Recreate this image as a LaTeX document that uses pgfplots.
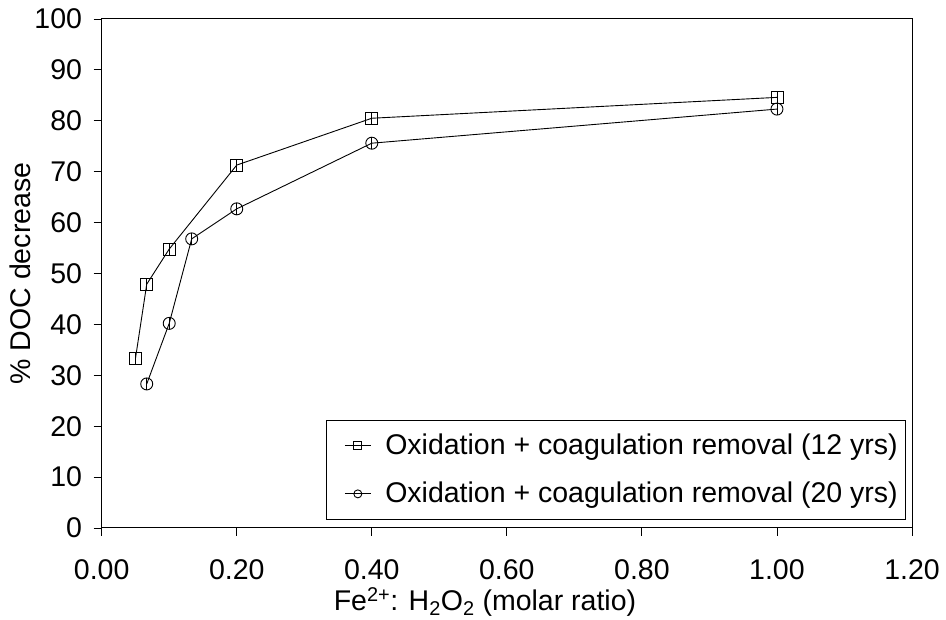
\documentclass[border=0pt]{standalone}
\usepackage{fontspec}
\setmainfont{Liberation Sans}
\usepackage{pgfplots}
\pgfplotsset{compat=1.18}

\begin{document}
\fontsize{28.5pt}{32pt}\selectfont
\begin{tikzpicture}
\path[use as bounding box] (-101.7pt,-92pt) rectangle (844.3pt,528pt);
\begin{axis}[
  at={(0pt,0pt)}, anchor=south west,
  scale only axis,
  width=810.3pt, height=509pt,
  xmin=0, xmax=1.2, ymin=0, ymax=100,
  xtick={0,0.2,...,1.2},
  ytick={0,10,...,100},
  xtick pos=left, ytick pos=left,
  tick align=outside,
  major tick length=8pt,
  axis line style={line width=1pt},
  every tick/.style={black, line width=0.9pt},
  xticklabel style={yshift=-14pt, /pgf/number format/.cd, fixed, fixed zerofill, precision=2, assume math mode=true},
  yticklabel style={xshift=-2pt, /pgf/number format/assume math mode=true},
  tick label style={font=\fontsize{28.5pt}{32pt}\selectfont},
  xlabel={Fe\textsuperscript{2+}: H\textsubscript{2}O\textsubscript{2} (molar ratio)},
  ylabel={\% DOC decrease},
  label style={font=\fontsize{28.5pt}{32pt}\selectfont},
  xlabel style={at={(axis description cs:0.473,-0.145)}, anchor=center},
  ylabel style={at={(axis description cs:-0.1,0.5)}, anchor=center},
  legend style={
    at={(rel axis cs:0.2768,0.212)}, anchor=north west,
    font=\fontsize{28.5pt}{32pt}\selectfont,
    draw=black, line width=0.8pt,
    inner xsep=6pt, inner ysep=11pt,
    row sep=19pt,
    legend cell align=left,
  },
  legend image code/.code={
    \path (-12pt,0pt) (38pt,0pt);
    \draw[mark repeat=2, mark phase=2, mark size=4pt]
      plot coordinates {(0pt,0pt) (13pt,0pt) (26pt,0pt)};
  },
]
% 12-year leachate
\addplot[black, line width=0.9pt, mark=square, mark size=6pt,
  mark options={solid, fill=none, line width=0.9pt},
  error bars/.cd, y dir=both, y explicit, error mark=none,
  error bar style={black, line width=0.9pt}]
  coordinates {
    (0.05,33.3) +- (0,1.2)
    (0.0667,47.9) +- (0,1.2)
    (0.1,54.8) +- (0,1.2)
    (0.2,71.3) +- (0,1.2)
    (0.4,80.5) +- (0,1.2)
    (1.0,84.6) +- (0,1.2)
  };
\addlegendentry{Oxidation + coagulation removal (12 yrs)}
% 20-year leachate
\addplot[black, line width=0.9pt, mark=o, mark size=6pt,
  mark options={solid, fill=none, line width=0.9pt},
  error bars/.cd, y dir=both, y explicit, error mark=none,
  error bar style={black, line width=0.9pt}]
  coordinates {
    (0.0667,28.3) +- (0,1.2)
    (0.1,40.2) +- (0,1.2)
    (0.1333,56.8) +- (0,1.2)
    (0.2,62.7) +- (0,1.2)
    (0.4,75.6) +- (0,1.2)
    (1.0,82.3) +- (0,1.2)
  };
\addlegendentry{Oxidation + coagulation removal (20 yrs)}
\end{axis}
\end{tikzpicture}
\end{document}
